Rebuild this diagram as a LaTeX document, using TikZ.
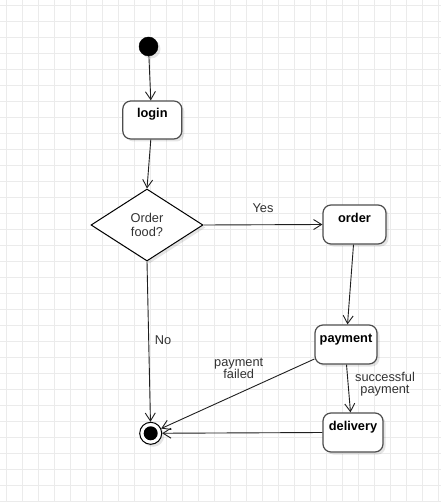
\documentclass[tikz,border=0pt]{standalone}
\usepackage{fontspec}
\setmainfont{Liberation Sans}
\usetikzlibrary{arrows.meta,shapes.geometric,shadows}
\definecolor{gridc}{HTML}{EBEBEB}
\definecolor{boxc}{HTML}{4D4D4D}
\definecolor{edgec}{HTML}{1F1F1F}
\definecolor{labc}{HTML}{333333}
\tikzset{
  shd/.style={drop shadow={shadow xshift=2.5pt,shadow yshift=-2.5pt,fill=black,opacity=0.1}},
  stbox/.style={draw=boxc,line width=1.2pt,rounded corners=8pt,fill=white,shd,
    inner sep=0pt,text height=10pt,text depth=14pt,
    font=\fontsize{12.8}{15}\selectfont\bfseries},
  decbox/.style={diamond,draw=black,line width=1pt,fill=white,shd,inner sep=0pt,
    minimum width=112pt,minimum height=72pt,align=center,
    font=\fontsize{12.8}{14.5}\selectfont,text=labc},
  flow/.style={draw=edgec,line width=0.9pt,-{Straight Barb[length=8pt,width=10pt,line width=0.9pt]}},
  lab/.style={font=\fontsize{12.8}{12}\selectfont,text=labc,align=center,inner sep=0pt}
}
\begin{document}
\begin{tikzpicture}[x=1pt,y=-1pt]
\useasboundingbox (0,0) rectangle (441,502);
\fill[white] (0,0) rectangle (441,502);
\foreach \i in {0,...,27} \draw[gridc,line width=0.9pt] (6+16*\i,0) -- (6+16*\i,502);
\foreach \j in {0,...,31} \draw[gridc,line width=0.9pt] (0,5+16*\j) -- (441,5+16*\j);

\node[circle,fill=black,draw=black,minimum size=19pt,inner sep=0pt,shd] (start) at (148.5,46.5) {};
\node[stbox,minimum width=59pt,minimum height=38pt] (login) at (152.3,120) {login};
\node[decbox] (dec) at (147,225) {Order\\food?};
\node[stbox,minimum width=63pt,minimum height=39pt] (order) at (354.5,224.5) {order};
\node[stbox,minimum width=62pt,minimum height=39pt] (payment) at (346,344.5) {payment};
\node[stbox,minimum width=60pt,minimum height=39pt] (delivery) at (353,432.5) {delivery};
\node[circle,draw=black,line width=1pt,fill=white,minimum size=22pt,inner sep=0pt,shd] (end) at (150.7,433.3) {};
\fill[black] (end.center) circle (7pt);

\draw[flow] (start) -- ([xshift=-1.5pt]login.north);
\draw[flow] ([xshift=-1.5pt]login.south) -- (dec.north);
\draw[flow] (dec.east) -- (order.west);
\draw[flow] ([xshift=-1pt]order.south) -- ([xshift=1.5pt]payment.north);
\draw[flow] ([xshift=0.5pt]payment.south) -- ([xshift=-2.5pt]delivery.north);
\draw[flow] (dec.south) -- (end);
\draw[flow] ([yshift=-14.5pt]payment.west) -- (end);
\draw[flow] (delivery.west) -- (end);

\node[lab] (lyes) at (263,208.5) {Yes};
\node[lab] (lno) at (163,340) {No};
\node[lab] (lfail) at (238.7,368) {payment\\failed};
\node[lab] (lsucc) at (385,384.5) {successful\\payment};
\end{tikzpicture}
\end{document}
